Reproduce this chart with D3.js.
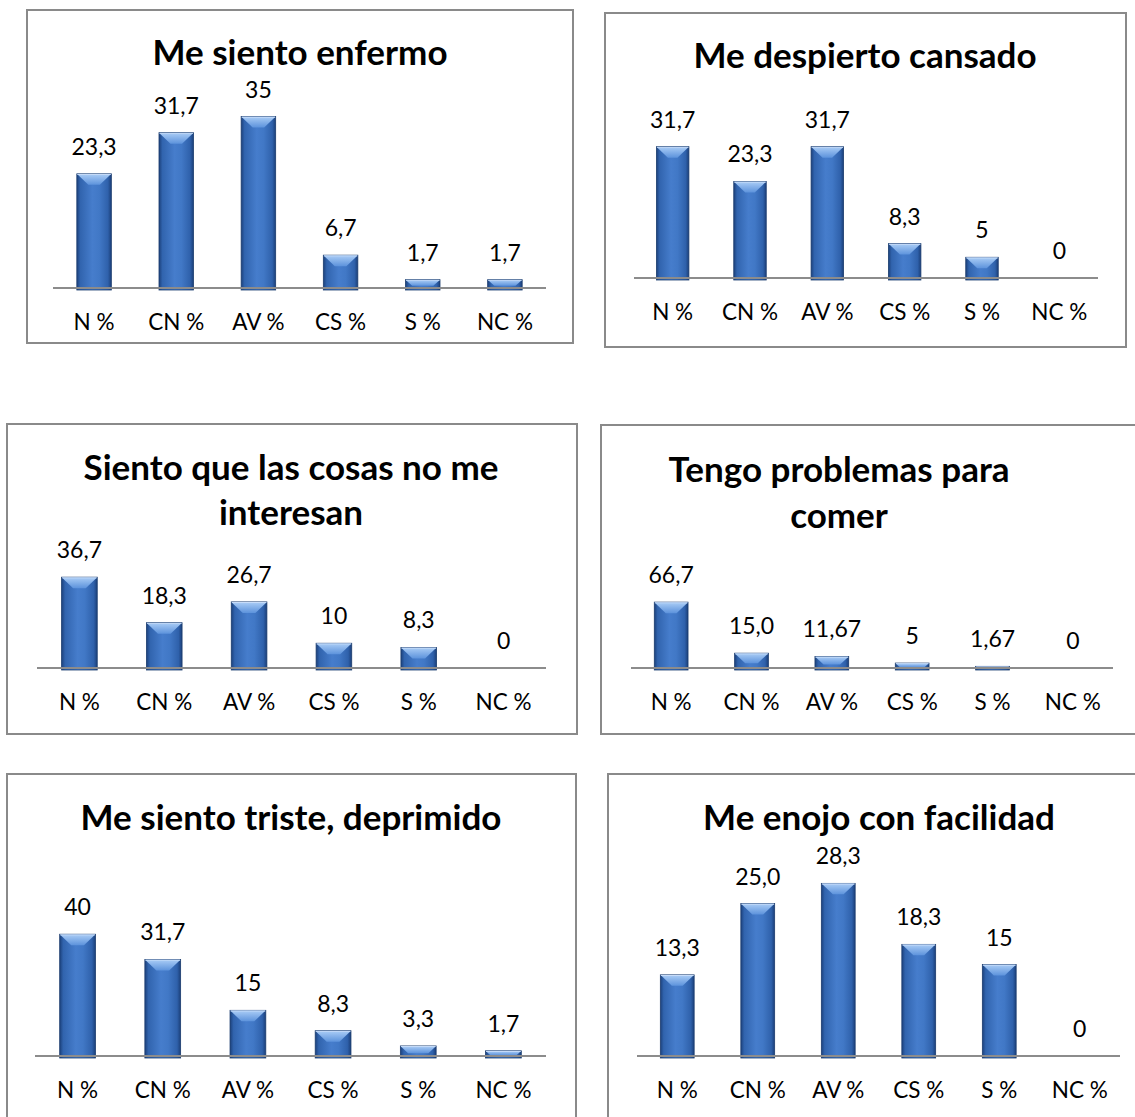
<!DOCTYPE html>
<html><head><meta charset="utf-8">
<script src="https://cdn.jsdelivr.net/npm/d3@7"></script>
<style>body{margin:0;background:#fff}</style></head>
<body>
<svg id="c" width="1135" height="1117"></svg>
<script>
// ---- data ----
const categories = ["N %", "CN %", "AV %", "CS %", "S %", "NC %"];
const titles = [
  ["Me siento enfermo"],
  ["Me despierto cansado"],
  ["Siento que las cosas no me", "interesan"],
  ["Tengo problemas para", "comer"],
  ["Me siento triste, deprimido"],
  ["Me enojo con facilidad"]
];
const valuesEnfermo   = [23.3, 31.7, 35, 6.7, 1.7, 1.7];
const valuesCansado   = [31.7, 23.3, 31.7, 8.3, 5, 0];
const valuesInteresan = [36.7, 18.3, 26.7, 10, 8.3, 0];
const valuesComer     = [66.7, 15.0, 11.67, 5, 1.67, 0];
const valuesTriste    = [40, 31.7, 15, 8.3, 3.3, 1.7];
const valuesEnojo     = [13.3, 25.0, 28.3, 18.3, 15, 0];
const labelsEnfermo   = ["23,3", "31,7", "35", "6,7", "1,7", "1,7"];
const labelsCansado   = ["31,7", "23,3", "31,7", "8,3", "5", "0"];
const labelsInteresan = ["36,7", "18,3", "26,7", "10", "8,3", "0"];
const labelsComer     = ["66,7", "15,0", "11,67", "5", "1,67", "0"];
const labelsTriste    = ["40", "31,7", "15", "8,3", "3,3", "1,7"];
const labelsEnojo     = ["13,3", "25,0", "28,3", "18,3", "15", "0"];
const axisMax = [40, 35, 40, 80, 45, 30];

const seriesValues = [valuesEnfermo, valuesCansado, valuesInteresan, valuesComer, valuesTriste, valuesEnojo];
const seriesLabels = [labelsEnfermo, labelsCansado, labelsInteresan, labelsComer, labelsTriste, labelsEnojo];

// ---- layout (positions) ----
const layout = [
  {frame:[27,10,573,343],   x0:53,  x1:546,  base:288, top:92,  tx:300, ty:[65]},
  {frame:[605,13,1126,347], x0:634, x1:1098, base:278, top:133, tx:865, ty:[68]},
  {frame:[7,424,577,734],   x0:37,  x1:546,  base:668, top:569, tx:291, ty:[480,525]},
  {frame:[601,425,1145,734],x0:631, x1:1113, base:668, top:589, tx:839, ty:[482,528]},
  {frame:[7,774,576,1130],  x0:35,  x1:546,  base:1056,top:919, tx:291, ty:[830]},
  {frame:[608,774,1145,1130],x0:637,x1:1120, base:1056,top:873, tx:879, ty:[830]}
];

const FONT = "Lato, 'Open Sans', sans-serif";
const svg = d3.select("#c");
const defs = svg.append("defs");

const side = defs.append("linearGradient").attr("id","side").attr("x1","0").attr("x2","1").attr("y1","0").attr("y2","0");
[["0%","#1c417c"],["10%","#3164ae"],["45%","#467dcc"],["65%","#4178c6"],["90%","#2f61ab"],["100%","#1b3f79"]]
  .forEach(([o,c]) => side.append("stop").attr("offset",o).attr("stop-color",c));
const topG = defs.append("linearGradient").attr("id","topg").attr("x1","0").attr("x2","0").attr("y1","0").attr("y2","1");
[["0%","#a8cbf5"],["100%","#5d93dc"]].forEach(([o,c]) => topG.append("stop").attr("offset",o).attr("stop-color",c));

layout.forEach((L, i) => {
  const g = svg.append("g");
  const [fx0, fy0, fx1, fy1] = L.frame;
  g.append("rect").attr("x", fx0).attr("y", fy0).attr("width", fx1 - fx0).attr("height", fy1 - fy0)
    .attr("fill", "#fff").attr("stroke", "#8a8a8a").attr("stroke-width", 2);

  // title
  titles[i].forEach((t, k) => {
    g.append("text").attr("x", L.tx).attr("y", L.ty[k]).attr("text-anchor", "middle")
      .attr("font-family", FONT).attr("font-weight", "bold").attr("font-size", 35)
      .attr("fill", "#000").text(t);
  });

  const x = d3.scaleBand().domain(categories).range([L.x0, L.x1]).paddingInner(0.58).paddingOuter(0.29);
  const y = d3.scaleLinear().domain([0, axisMax[i]]).range([L.base, L.top]);
  const vals = seriesValues[i];
  const labs = seriesLabels[i];
  const data = categories.map((c, j) => ({c, v: vals[j], l: labs[j]}));

  // bars
  data.forEach(d => {
    if (d.v <= 0) return;
    const bx = x(d.c), bw = x.bandwidth();
    const by = y(d.v), bh = y(0) - y(d.v) + 2;
    g.append("rect").attr("x", bx).attr("y", by).attr("width", bw).attr("height", bh)
      .attr("fill", "url(#side)").attr("stroke", "#1b3c6e").attr("stroke-width", 0.8);
    const dd = Math.min(11, bh * 0.6, bw / 2 - 3);
    g.append("path")
      .attr("d", `M${bx+0.5},${by+0.5} L${bx+bw-0.5},${by+0.5} L${bx+bw-0.5-dd},${by+dd} L${bx+0.5+dd},${by+dd} Z`)
      .attr("fill", "url(#topg)");
    g.append("line").attr("x1", bx + 0.5).attr("x2", bx + bw - 0.5).attr("y1", by + 0.6).attr("y2", by + 0.6)
      .attr("stroke", "#c9defa").attr("stroke-width", 1);
  });

  // axis line via d3 axis
  const axisG = g.append("g").attr("transform", `translate(0,${L.base})`)
    .call(d3.axisBottom(x).tickSize(0).tickPadding(42).tickSizeOuter(0));
  axisG.select(".domain").attr("stroke", "#8c8c8c").attr("stroke-width", 2)
    .attr("d", `M${L.x0},0H${L.x1}`);
  axisG.selectAll(".tick text").attr("font-family", FONT).attr("font-size", 22.5).attr("fill", "#000")
    .attr("dy", 0);

  // value labels
  g.selectAll(".vl").data(data).enter().append("text")
    .attr("x", d => x(d.c) + x.bandwidth() / 2)
    .attr("y", d => y(d.v) - 19)
    .attr("text-anchor", "middle").attr("font-family", FONT).attr("font-size", 23).attr("fill", "#000")
    .text(d => d.l);
});
</script>
</body></html>
